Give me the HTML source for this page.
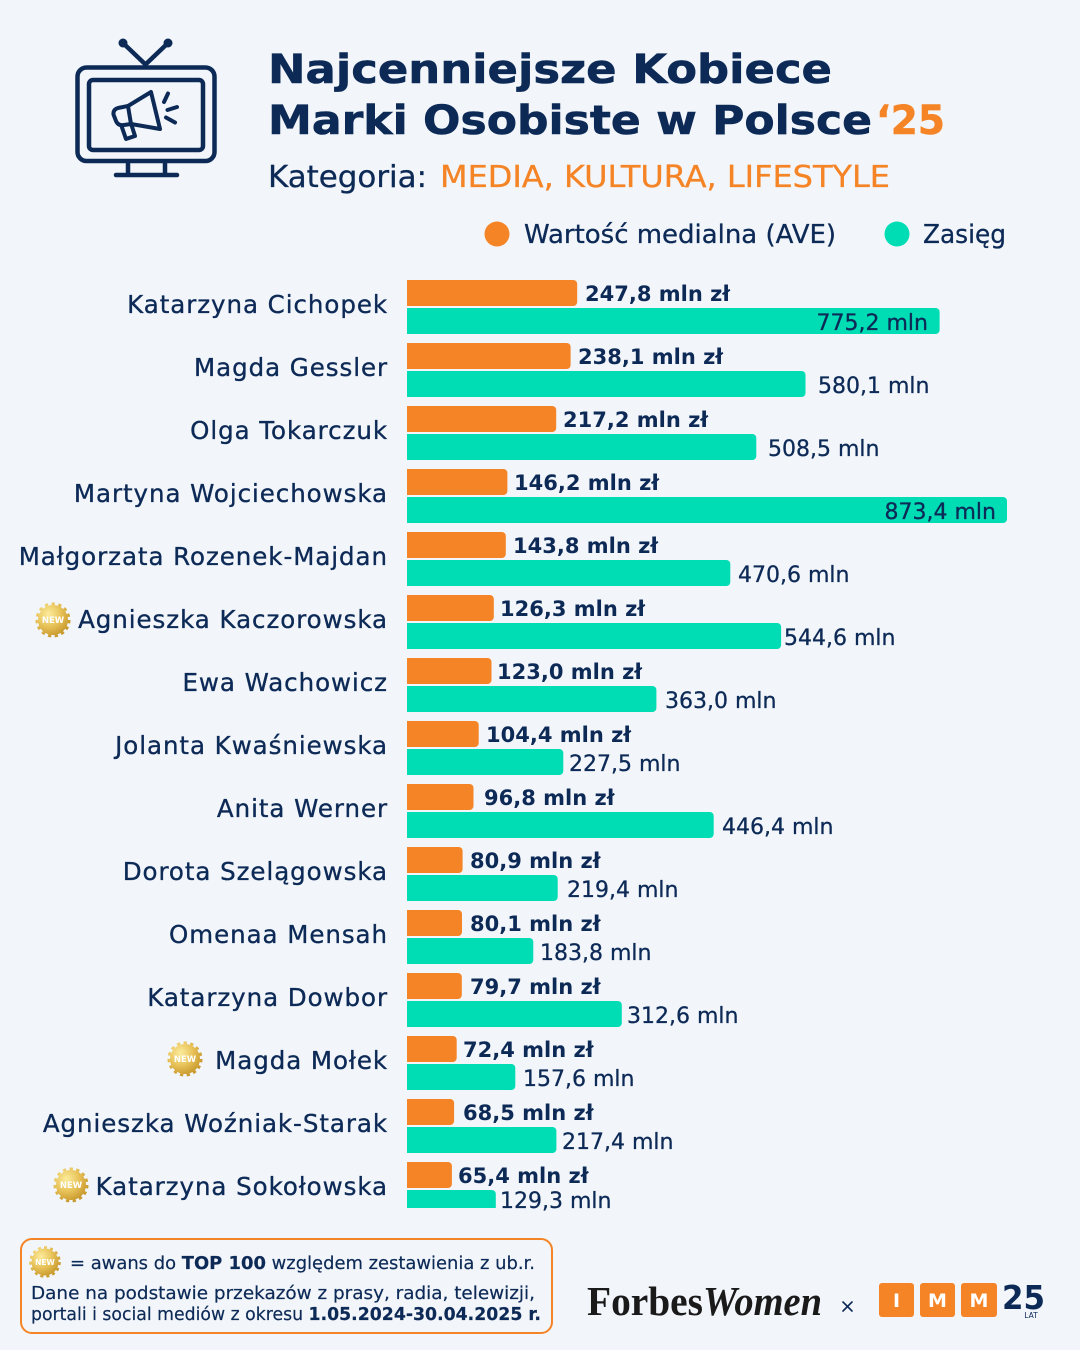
<!DOCTYPE html>
<html><head><meta charset="utf-8"><style>
html,body{margin:0;padding:0;background:#f2f6fa;}
svg{display:block;}
text{font-family:"DejaVu Sans","Liberation Sans",sans-serif;}
.nm{font-size:24.5px;fill:#0d2a57;stroke:#0d2a57;stroke-width:0.35px;letter-spacing:0.95px;text-anchor:end;}
.ov{font-size:21px;font-weight:bold;fill:#0d2a57;}
.gv{font-size:22px;fill:#0d2a57;stroke:#0d2a57;stroke-width:0.3px;}
</style></head><body>
<svg width="1080" height="1350" viewBox="0 0 1080 1350" xmlns="http://www.w3.org/2000/svg">
<defs>
<radialGradient id="gold" cx="35%" cy="30%" r="75%">
<stop offset="0" stop-color="#fcec9c"/><stop offset="0.55" stop-color="#e8c35a"/><stop offset="1" stop-color="#c99a2e"/>
</radialGradient>
<clipPath id="cc"><rect x="407" y="270" width="673" height="938"/></clipPath>
</defs>
<rect width="1080" height="1350" fill="#f2f6fa"/>

<!-- TV icon -->
<g fill="none" stroke="#0d2a57" stroke-width="4.5" stroke-linecap="round" stroke-linejoin="round">
<rect x="77.5" y="67.5" width="137" height="93.5" rx="9"/>
<rect x="89" y="80" width="114" height="70" rx="4"/>
<line x1="145" y1="64" x2="123" y2="43"/>
<line x1="146" y1="64" x2="168" y2="43"/>
<line x1="128" y1="162" x2="128" y2="174"/>
<line x1="165" y1="162" x2="165" y2="174"/>
<line x1="116" y1="175" x2="177" y2="175"/>
<g stroke-width="4">
<path d="M128,106 L151,92 L160,129 L131,124 Z"/>
<path d="M128,106 L118,108 Q113,109.5 113.5,114.5 L116,121 Q118,126 124,125 L131,124"/>
<path d="M121.5,126 L126,139 L135,136 L131.5,125"/>
<line x1="164" y1="102" x2="168" y2="93.5"/>
<line x1="167.5" y1="110" x2="177" y2="107"/>
<line x1="166" y1="117.5" x2="175" y2="122.5"/>
</g>
</g>
<circle cx="123" cy="43" r="4.5" fill="#0d2a57"/>
<circle cx="168" cy="43" r="4.5" fill="#0d2a57"/>

<!-- Title -->
<text x="268" y="83" font-size="40" font-weight="bold" fill="#0d2a57" stroke="#0d2a57" stroke-width="0.6" textLength="564" lengthAdjust="spacingAndGlyphs">Najcenniejsze Kobiece</text>
<text x="268" y="134" font-size="40" font-weight="bold" fill="#0d2a57" stroke="#0d2a57" stroke-width="0.6" textLength="604" lengthAdjust="spacingAndGlyphs">Marki Osobiste w Polsce</text>
<text x="876" y="134" font-size="40" font-weight="bold" fill="#f58426" stroke="#f58426" stroke-width="0.6" textLength="69" lengthAdjust="spacingAndGlyphs">‘25</text>
<text x="268" y="187" font-size="30" fill="#0d2a57" stroke="#0d2a57" stroke-width="0.3" textLength="159" lengthAdjust="spacingAndGlyphs">Kategoria:</text>
<text x="440" y="187" font-size="30" fill="#f58426" stroke="#f58426" stroke-width="0.3" textLength="450" lengthAdjust="spacingAndGlyphs">MEDIA, KULTURA, LIFESTYLE</text>

<!-- Legend -->
<circle cx="497" cy="234" r="12.5" fill="#f58426"/>
<text x="524" y="243" font-size="26" fill="#0d2a57" stroke="#0d2a57" stroke-width="0.3" textLength="312" lengthAdjust="spacingAndGlyphs">Wartość medialna (AVE)</text>
<circle cx="897" cy="234" r="12.5" fill="#00dcb4"/>
<text x="923" y="243" font-size="26" fill="#0d2a57" stroke="#0d2a57" stroke-width="0.3" textLength="83" lengthAdjust="spacingAndGlyphs">Zasięg</text>

<!-- Bars -->
<g clip-path="url(#cc)">
<g fill="#f58426">
<rect x="400" y="280" width="177.2" height="26" rx="4"/>
<rect x="400" y="343" width="170.6" height="26" rx="4"/>
<rect x="400" y="406" width="156.2" height="26" rx="4"/>
<rect x="400" y="469" width="107.4" height="26" rx="4"/>
<rect x="400" y="532" width="105.8" height="26" rx="4"/>
<rect x="400" y="595" width="93.8" height="26" rx="4"/>
<rect x="400" y="658" width="91.5" height="26" rx="4"/>
<rect x="400" y="721" width="78.7" height="26" rx="4"/>
<rect x="400" y="784" width="73.5" height="26" rx="4"/>
<rect x="400" y="847" width="62.6" height="26" rx="4"/>
<rect x="400" y="910" width="62" height="26" rx="4"/>
<rect x="400" y="973" width="61.8" height="26" rx="4"/>
<rect x="400" y="1036" width="56.7" height="26" rx="4"/>
<rect x="400" y="1099" width="54.1" height="26" rx="4"/>
<rect x="400" y="1162" width="51.9" height="26" rx="4"/>
</g>
<g fill="#00dcb4">
<rect x="400" y="308" width="539.6" height="26" rx="4"/>
<rect x="400" y="371" width="405.5" height="26" rx="4"/>
<rect x="400" y="434" width="356.3" height="26" rx="4"/>
<rect x="400" y="497" width="607" height="26" rx="4"/>
<rect x="400" y="560" width="330.3" height="26" rx="4"/>
<rect x="400" y="623" width="381.1" height="26" rx="4"/>
<rect x="400" y="686" width="256.4" height="26" rx="4"/>
<rect x="400" y="749" width="163.3" height="26" rx="4"/>
<rect x="400" y="812" width="313.7" height="26" rx="4"/>
<rect x="400" y="875" width="157.7" height="26" rx="4"/>
<rect x="400" y="938" width="133.3" height="26" rx="4"/>
<rect x="400" y="1001" width="221.8" height="26" rx="4"/>
<rect x="400" y="1064" width="115.3" height="26" rx="4"/>
<rect x="400" y="1127" width="156.4" height="26" rx="4"/>
<rect x="400" y="1190" width="95.8" height="26" rx="4"/>
</g>
</g>

<!-- Names -->
<text class="nm" x="388" y="313">Katarzyna Cichopek</text>
<text class="nm" x="388" y="376">Magda Gessler</text>
<text class="nm" x="388" y="439">Olga Tokarczuk</text>
<text class="nm" x="388" y="502">Martyna Wojciechowska</text>
<text class="nm" x="388" y="565">Małgorzata Rozenek-Majdan</text>
<text class="nm" x="388" y="628">Agnieszka Kaczorowska</text>
<text class="nm" x="388" y="691">Ewa Wachowicz</text>
<text class="nm" x="388" y="754">Jolanta Kwaśniewska</text>
<text class="nm" x="388" y="817">Anita Werner</text>
<text class="nm" x="388" y="880">Dorota Szelągowska</text>
<text class="nm" x="388" y="943">Omenaa Mensah</text>
<text class="nm" x="388" y="1006">Katarzyna Dowbor</text>
<text class="nm" x="388" y="1069">Magda Mołek</text>
<text class="nm" x="388" y="1132">Agnieszka Woźniak-Starak</text>
<text class="nm" x="388" y="1195">Katarzyna Sokołowska</text>

<!-- Orange values -->
<text class="ov" x="585" y="301">247,8 mln zł</text>
<text class="ov" x="578" y="364">238,1 mln zł</text>
<text class="ov" x="563" y="427">217,2 mln zł</text>
<text class="ov" x="514" y="490">146,2 mln zł</text>
<text class="ov" x="513" y="553">143,8 mln zł</text>
<text class="ov" x="500" y="616">126,3 mln zł</text>
<text class="ov" x="497" y="679">123,0 mln zł</text>
<text class="ov" x="486" y="742">104,4 mln zł</text>
<text class="ov" x="484" y="805">96,8 mln zł</text>
<text class="ov" x="470" y="868">80,9 mln zł</text>
<text class="ov" x="470" y="931">80,1 mln zł</text>
<text class="ov" x="470" y="994">79,7 mln zł</text>
<text class="ov" x="463" y="1057">72,4 mln zł</text>
<text class="ov" x="463" y="1120">68,5 mln zł</text>
<text class="ov" x="458" y="1183">65,4 mln zł</text>

<!-- Green values -->
<text class="gv" x="928" y="330" text-anchor="end">775,2 mln</text>
<text class="gv" x="818" y="393">580,1 mln</text>
<text class="gv" x="768" y="456">508,5 mln</text>
<text class="gv" x="996" y="519" text-anchor="end">873,4 mln</text>
<text class="gv" x="738" y="582">470,6 mln</text>
<text class="gv" x="784" y="645">544,6 mln</text>
<text class="gv" x="665" y="708">363,0 mln</text>
<text class="gv" x="569" y="771">227,5 mln</text>
<text class="gv" x="722" y="834">446,4 mln</text>
<text class="gv" x="567" y="897">219,4 mln</text>
<text class="gv" x="540" y="960">183,8 mln</text>
<text class="gv" x="627" y="1023">312,6 mln</text>
<text class="gv" x="523" y="1086">157,6 mln</text>
<text class="gv" x="562" y="1149">217,4 mln</text>
<text class="gv" x="500" y="1208">129,3 mln</text>

<!-- NEW badges -->
<g transform="translate(53,620)">
<circle r="15" fill="url(#gold)"/>
<circle r="15.5" fill="none" stroke="url(#gold)" stroke-width="4" stroke-dasharray="3.2 3.3"/>
<text y="3" font-size="8.5" font-weight="bold" fill="#ffffff" text-anchor="middle">NEW</text>
</g>
<g transform="translate(185,1059)">
<circle r="15" fill="url(#gold)"/>
<circle r="15.5" fill="none" stroke="url(#gold)" stroke-width="4" stroke-dasharray="3.2 3.3"/>
<text y="3" font-size="8.5" font-weight="bold" fill="#ffffff" text-anchor="middle">NEW</text>
</g>
<g transform="translate(71,1185)">
<circle r="15" fill="url(#gold)"/>
<circle r="15.5" fill="none" stroke="url(#gold)" stroke-width="4" stroke-dasharray="3.2 3.3"/>
<text y="3" font-size="8.5" font-weight="bold" fill="#ffffff" text-anchor="middle">NEW</text>
</g>

<!-- Footer box -->
<rect x="21" y="1239" width="531" height="94" rx="11" fill="none" stroke="#f58426" stroke-width="2"/>
<g transform="translate(45,1262)">
<circle r="13.5" fill="url(#gold)"/>
<circle r="14" fill="none" stroke="url(#gold)" stroke-width="3.5" stroke-dasharray="2.9 3"/>
<text y="3" font-size="7.5" font-weight="bold" fill="#ffffff" text-anchor="middle">NEW</text>
</g>
<text x="70" y="1269" font-size="18" fill="#0d2a57" stroke="#0d2a57" stroke-width="0.2" textLength="465" lengthAdjust="spacingAndGlyphs">= awans do <tspan font-weight="bold">TOP 100</tspan> względem zestawienia z ub.r.</text>
<text x="31" y="1299" font-size="18" fill="#0d2a57" stroke="#0d2a57" stroke-width="0.2" textLength="504" lengthAdjust="spacingAndGlyphs">Dane na podstawie przekazów z prasy, radia, telewizji,</text>
<text x="31" y="1320" font-size="18" fill="#0d2a57" stroke="#0d2a57" stroke-width="0.2" textLength="510" lengthAdjust="spacingAndGlyphs">portali i social mediów z okresu <tspan font-weight="bold">1.05.2024-30.04.2025 r.</tspan></text>

<!-- Forbes Women -->
<text x="587" y="1315" font-size="41" font-weight="bold" fill="#1a1a1a" textLength="116" lengthAdjust="spacingAndGlyphs" style="font-family:'Liberation Serif',serif">Forbes</text>
<text x="703" y="1315" font-size="41" font-weight="bold" font-style="italic" fill="#1a1a1a" textLength="119" lengthAdjust="spacingAndGlyphs" style="font-family:'Liberation Serif',serif">Women</text>
<g stroke="#0d2a57" stroke-width="1.6" stroke-linecap="round">
<line x1="843" y1="1302" x2="852" y2="1311"/>
<line x1="852" y1="1302" x2="843" y2="1311"/>
</g>

<!-- IMM -->
<rect x="879" y="1283" width="35" height="34" rx="3" fill="#f58426"/>
<rect x="920" y="1283" width="35" height="34" rx="3" fill="#f58426"/>
<rect x="961" y="1283" width="36" height="34" rx="3" fill="#f58426"/>
<text x="896.5" y="1307" font-size="19" font-weight="bold" fill="#ffffff" text-anchor="middle">I</text>
<text x="937.5" y="1307" font-size="19" font-weight="bold" fill="#ffffff" text-anchor="middle">M</text>
<text x="979" y="1307" font-size="19" font-weight="bold" fill="#ffffff" text-anchor="middle">M</text>
<text x="1002" y="1309" font-size="33" font-weight="bold" fill="#0d2a57" textLength="43" lengthAdjust="spacingAndGlyphs">25</text>
<text x="1031" y="1318" font-size="7.5" fill="#0d2a57" text-anchor="middle">LAT</text>
</svg>
</body></html>
